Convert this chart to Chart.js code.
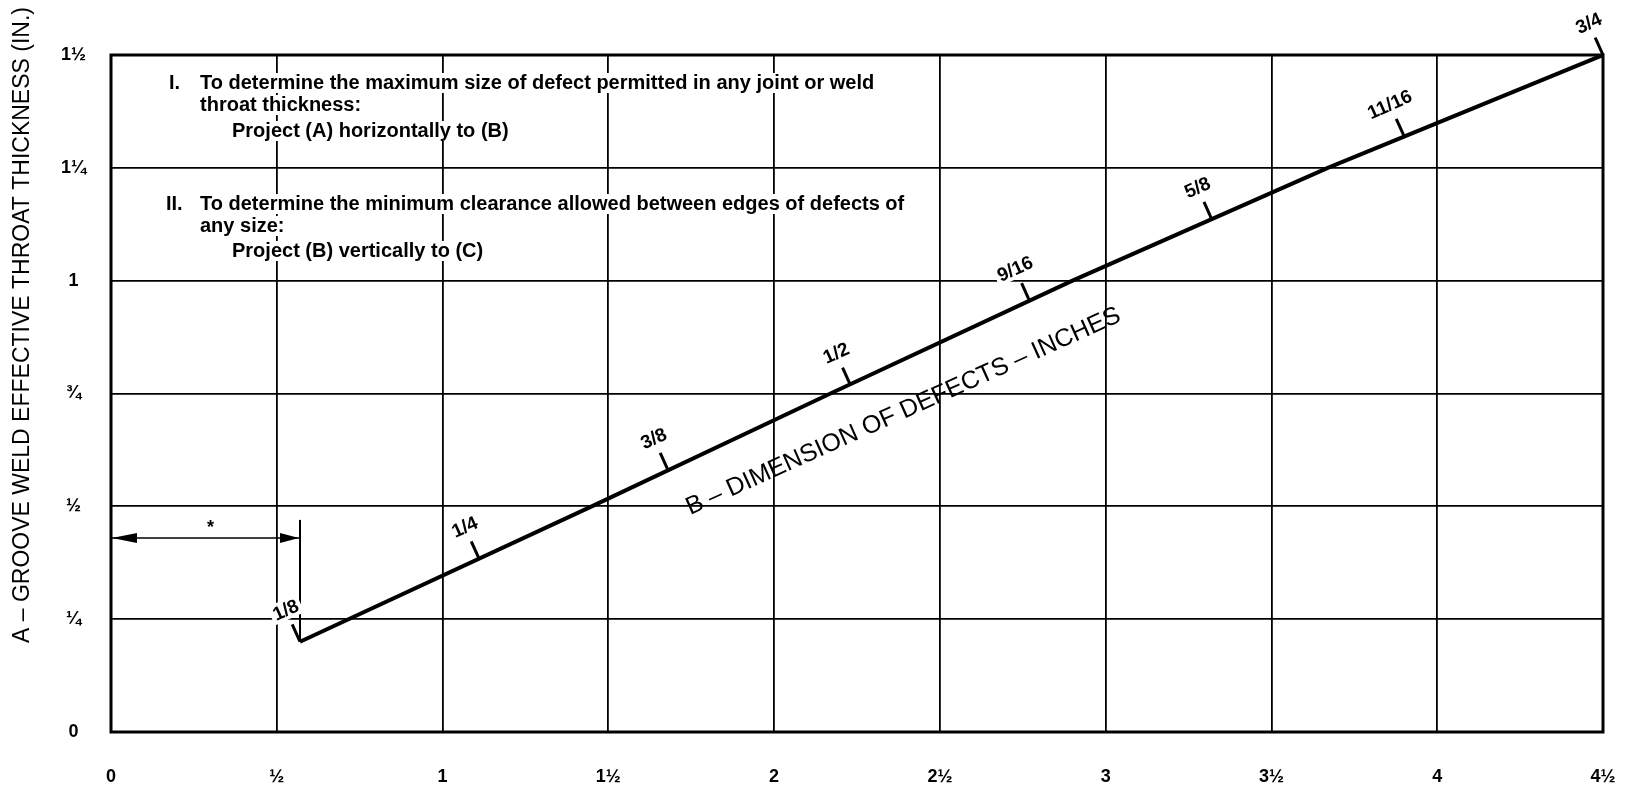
<!DOCTYPE html>
<html>
<head>
<meta charset="utf-8">
<script src="https://cdn.jsdelivr.net/npm/chart.js@4"></script>
<style>
  html, body { margin: 0; padding: 0; background: #fff; }
  #wrap { width: 1627px; height: 791px; }
</style>
</head>
<body>
<div id="wrap"><canvas id="weldChart" width="1627" height="791"></canvas></div>
<script>
// axis ticks
const xTicks = [0, 0.5, 1, 1.5, 2, 2.5, 3, 3.5, 4, 4.5];
const xTickLabels = ['0', '½', '1', '1½', '2', '2½', '3', '3½', '4', '4½'];
const yTicks = [0, 0.25, 0.5, 0.75, 1, 1.25, 1.5];
const yTickLabels = ['0', '¼', '½', '¾', '1', '1¼', '1½'];

// the B curve (throat thickness vs defect clearance)
const curveX = [0.57, 1.45, 2.17, 2.9, 3.67, 4.5];
const curveY = [0.2, 0.5, 0.75, 1.0, 1.25, 1.5];

// defect dimension marks along the curve
const defectLabels = ['1/8', '1/4', '3/8', '1/2', '9/16', '5/8', '11/16', '3/4'];
const defectX = [0.57, 1.11, 1.68, 2.23, 2.77, 3.32, 3.9, 4.5];
const defectY = [0.2, 0.384, 0.58, 0.769, 0.956, 1.136, 1.32, 1.5];

// vertical drop at 1/8 and the * dimension arrow
const dropX = [0.57, 0.57];
const dropY = [0.2, 0.47];
const arrowX = [0, 0.57];
const arrowY = [0.43, 0.43];
const starX = 0.3;
const starY = 0.452;

const yTitle = 'A – GROOVE WELD EFFECTIVE THROAT THICKNESS (IN.)';
const curveTitle = 'B – DIMENSION OF DEFECTS – INCHES';
const curveTitleX = 2.39;
const curveTitleY = 0.71;

const notes = [
  ['I.', 'To determine the maximum size of defect permitted in any joint or weld', 'throat thickness:', 'Project (A) horizontally to (B)'],
  ['II.', 'To determine the minimum clearance allowed between edges of defects of', 'any size:', 'Project (B) vertically to (C)']
];

const toPoints = (xs, ys) => xs.map((x, i) => ({ x: x, y: ys[i] }));

const textFont = "'Liberation Sans', Arial, sans-serif";
const tickFont = { family: textFont, size: 18, weight: 'bold' };

const weldOverlay = {
  id: 'weldOverlay',
  beforeDatasetsDraw(chart) {
    const { ctx, chartArea: a } = chart;
    ctx.save();
    ctx.strokeStyle = '#000';
    ctx.lineWidth = 3;
    ctx.strokeRect(a.left, a.top, a.right - a.left, a.bottom - a.top);

    // instruction notes
    ctx.font = 'bold 20px ' + textFont;
    ctx.textBaseline = 'middle';
    ctx.textAlign = 'left';
    const rows = [[83, 105, 131], [204, 226, 251]];
    notes.forEach((n, k) => {
      const lines = [[a.left + 58 - (k ? 3 : 0), rows[k][0], n[0]], [a.left + 89, rows[k][0], n[1]],
                     [a.left + 89, rows[k][1], n[2]], [a.left + 121, rows[k][2], n[3]]];
      lines.forEach(([x, y, t]) => {
        const w = ctx.measureText(t).width;
        ctx.fillStyle = '#fff';
        ctx.fillRect(x - 2, y - 10, w + 4, 20);
        ctx.fillStyle = '#000';
        ctx.fillText(t, x, y);
      });
    });

    // y axis title
    ctx.save();
    ctx.translate(23, 325);
    ctx.rotate(-Math.PI / 2);
    ctx.font = '23px ' + textFont;
    ctx.textAlign = 'center';
    ctx.textBaseline = 'middle';
    ctx.fillText(yTitle, 0, 0);
    ctx.restore();

    ctx.restore();
  },
  afterDatasetsDraw(chart) {
    const { ctx } = chart;
    const xs = chart.scales.x, ys = chart.scales.y;
    const px = v => xs.getPixelForValue(v);
    const py = v => ys.getPixelForValue(v);
    const n = curveX.length - 1;
    const ang = Math.atan2(py(curveY[n]) - py(curveY[0]), px(curveX[n]) - px(curveX[0]));
    const nx = Math.sin(ang), ny = -Math.cos(ang);

    ctx.save();
    ctx.strokeStyle = '#000';
    ctx.fillStyle = '#000';

    // marks and their labels
    defectLabels.forEach((lab, i) => {
      const bx = px(defectX[i]), by = py(defectY[i]);
      ctx.lineWidth = 3;
      ctx.beginPath();
      ctx.moveTo(bx, by);
      ctx.lineTo(bx + nx * 19, by + ny * 19);
      ctx.stroke();
      ctx.save();
      ctx.translate(bx + nx * 35, by + ny * 35);
      ctx.rotate(ang);
      ctx.font = 'bold 19px ' + textFont;
      ctx.textAlign = 'center';
      ctx.textBaseline = 'middle';
      const w = ctx.measureText(lab).width;
      ctx.fillStyle = '#fff';
      ctx.fillRect(-w / 2 - 3, -10, w + 6, 20);
      ctx.fillStyle = '#000';
      ctx.fillText(lab, 0, 1);
      ctx.restore();
    });

    // arrow heads
    const ay = py(arrowY[0]);
    const x0 = px(arrowX[0]), x1 = px(arrowX[1]);
    ctx.beginPath();
    ctx.moveTo(x0 + 1, ay);
    ctx.lineTo(x0 + 26, ay - 5);
    ctx.lineTo(x0 + 26, ay + 5);
    ctx.closePath();
    ctx.fill();
    ctx.beginPath();
    ctx.moveTo(x1 - 1, ay);
    ctx.lineTo(x1 - 20, ay - 5);
    ctx.lineTo(x1 - 20, ay + 5);
    ctx.closePath();
    ctx.fill();

    ctx.font = 'bold 18px ' + textFont;
    ctx.textAlign = 'center';
    ctx.textBaseline = 'middle';
    ctx.fillText('*', px(starX), py(starY));

    // curve caption
    ctx.save();
    ctx.translate(px(curveTitleX), py(curveTitleY));
    ctx.rotate(ang);
    ctx.font = '25px ' + textFont;
    ctx.fillText(curveTitle, 0, 0);
    ctx.restore();

    ctx.restore();
  }
};

const ctx = document.getElementById('weldChart').getContext('2d');
const weldChart = new Chart(ctx, {
  type: 'scatter',
  data: {
    datasets: [
      { data: toPoints(curveX, curveY), showLine: true, borderColor: '#000', borderWidth: 4, pointRadius: 0, tension: 0 },
      { data: toPoints(dropX, dropY), showLine: true, borderColor: '#000', borderWidth: 2, pointRadius: 0 },
      { data: toPoints(arrowX, arrowY), showLine: true, borderColor: '#000', borderWidth: 1.5, pointRadius: 0 }
    ]
  },
  options: {
    responsive: false,
    animation: false,
    layout: { padding: { left: 0, top: 55, right: 24, bottom: 0 } },
    plugins: { legend: { display: false }, tooltip: { enabled: false } },
    scales: {
      x: {
        type: 'linear', min: 0, max: 4.5,
        afterBuildTicks: s => { s.ticks = xTicks.map(v => ({ value: v })); },
        afterFit: s => { s.height = 59; s.paddingLeft = 0; s.paddingRight = 0; },
        grid: { color: '#000', lineWidth: 1.8, drawTicks: false },
        border: { display: false },
        ticks: {
          color: '#000', font: tickFont, padding: 34, maxRotation: 0, autoSkip: false,
          callback: (v, i) => xTickLabels[i]
        }
      },
      y: {
        type: 'linear', min: 0, max: 1.5,
        afterBuildTicks: s => { s.ticks = yTicks.map(v => ({ value: v })); },
        afterFit: s => { s.width = 111; s.paddingTop = 0; s.paddingBottom = 0; },
        grid: { color: '#000', lineWidth: 1.8, drawTicks: false },
        border: { display: false },
        ticks: {
          color: '#000', font: tickFont, padding: 25, crossAlign: 'center', autoSkip: false,
          callback: (v, i) => yTickLabels[i]
        }
      }
    }
  },
  plugins: [weldOverlay]
});
</script>
</body>
</html>
